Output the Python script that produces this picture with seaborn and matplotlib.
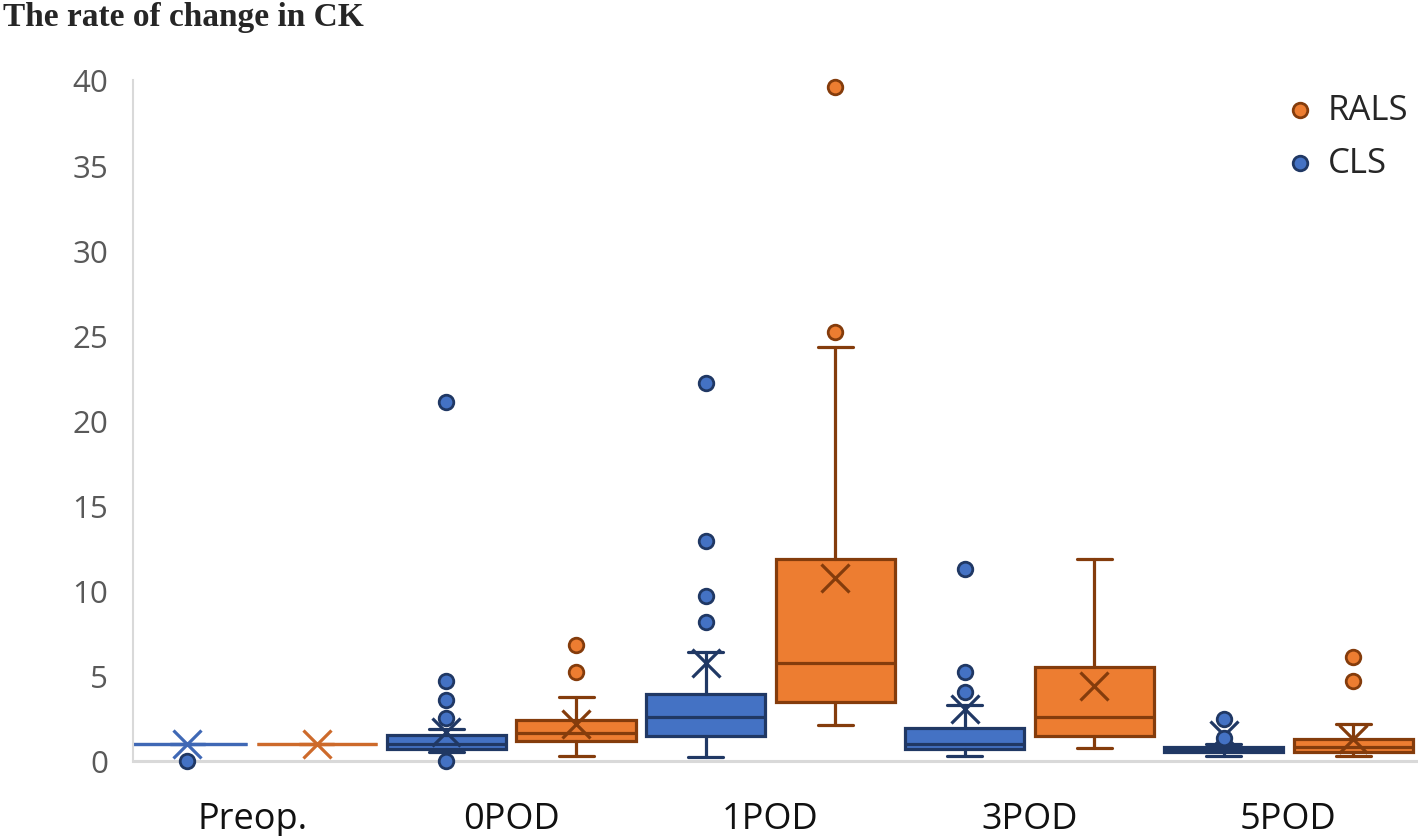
import matplotlib
matplotlib.use("Agg")
import matplotlib.pyplot as plt
import seaborn as sns
import pandas as pd

# categories and group summaries
categories = ["Preop.", "0POD", "1POD", "3POD", "5POD"]
groups = ["RALS", "CLS"]

cls_q1 = [1.0, 0.70, 1.47, 0.70, 0.53]
cls_med = [1.0, 1.00, 2.58, 1.00, 0.65]
cls_q3 = [1.0, 1.53, 3.93, 1.94, 0.80]
cls_wlo = [1.0, 0.53, 0.25, 0.30, 0.30]
cls_whi = [1.0, 1.90, 6.40, 3.30, 1.00]
cls_mean = [1.0, 1.70, 5.75, 3.05, 1.55]
cls_out = [[0.0], [0.0, 2.5, 3.6, 4.7, 21.1], [8.15, 9.7, 12.9, 22.2], [4.05, 5.2, 11.3], [1.33, 2.47]]

rals_q1 = [1.0, 1.17, 3.46, 1.47, 0.50]
rals_med = [1.0, 1.65, 5.75, 2.60, 0.80]
rals_q3 = [1.0, 2.40, 11.86, 5.50, 1.30]
rals_wlo = [1.0, 0.30, 2.10, 0.76, 0.30]
rals_whi = [1.0, 3.75, 24.30, 11.86, 2.20]
rals_mean = [1.0, 2.17, 10.75, 4.40, 1.30]
rals_out = [[], [5.2, 6.8], [25.2, 39.6], [], [4.7, 6.1]]

summ = {
    "CLS": (cls_q1, cls_med, cls_q3, cls_wlo, cls_whi, cls_mean, cls_out),
    "RALS": (rals_q1, rals_med, rals_q3, rals_wlo, rals_whi, rals_mean, rals_out),
}
offsets = {"CLS": -0.25, "RALS": 0.25}
fills = {"CLS": "#4472C4", "RALS": "#ED7D31"}
edges = {"CLS": "#203864", "RALS": "#843C0C"}
flat_edges = {"CLS": "#3F68B5", "RALS": "#CD6A2B"}

sns.set_style("white")
fig = plt.figure(figsize=(14.18, 8.37), dpi=100)
ax = fig.add_axes([133 / 1418, 75 / 837, 1 - 133 / 1418, (762 - 81) / 837])

lw = 2.3
for g in ["CLS", "RALS"]:
    q1, med, q3, wlo, whi, mean, out = summ[g]
    for i in range(len(categories)):
        flat = q1[i] == q3[i]
        ec = flat_edges[g] if flat else edges[g]
        stats = [dict(med=med[i], q1=q1[i], q3=q3[i], whislo=wlo[i], whishi=whi[i],
                      mean=mean[i], fliers=[])]
        ax.bxp(stats, positions=[i + offsets[g]], widths=0.46, capwidths=0.135,
               showmeans=True, showfliers=False, patch_artist=True, manage_ticks=False,
               boxprops=dict(facecolor=fills[g], edgecolor=ec, linewidth=lw),
               medianprops=dict(color=ec, linewidth=lw),
               whiskerprops=dict(color=ec, linewidth=lw),
               capprops=dict(color=ec, linewidth=lw),
               meanprops=dict(marker="x", markeredgecolor=ec, markersize=20,
                              markeredgewidth=lw))

# outliers in long form, drawn with seaborn
rows = []
for g in groups:
    out = summ[g][6]
    for i, vals in enumerate(out):
        for v in vals:
            rows.append({"pos": i + offsets[g], "value": v, "Group": g})
df = pd.DataFrame(rows)

for g in groups:
    sns.scatterplot(data=df[df["Group"] == g], x="pos", y="value", color=fills[g],
                    edgecolor=edges[g], linewidth=2, s=110, label=g, zorder=5,
                    clip_on=False, ax=ax)

ax.set_xlim(-0.46, 4.50)
ax.set_ylim(0, 40)
ax.set_xticks(range(len(categories)))
ax.set_xticklabels(categories)
ax.set_yticks(range(0, 41, 5))
ax.set_xlabel("")
ax.set_ylabel("")
ax.tick_params(axis="y", length=0, pad=18, labelsize=22.5, labelcolor="#595959")
ax.tick_params(axis="x", length=0, pad=29, labelsize=26, labelcolor="#111111")
for lab in ax.get_xticklabels() + ax.get_yticklabels():
    lab.set_family("Open Sans")

for s in ["top", "right"]:
    ax.spines[s].set_visible(False)
ax.spines["left"].set_color("#D9D9D9")
ax.spines["left"].set_linewidth(1.5)
ax.spines["bottom"].set_color("#D9D9D9")
ax.spines["bottom"].set_linewidth(2.2)

leg = ax.legend(loc="upper right", bbox_to_anchor=(1408 / 1418, 1 - 94 / 837),
                bbox_transform=fig.transFigure, frameon=False, fontsize=25,
                handlelength=0.6, handletextpad=0.5, labelspacing=0.55,
                borderaxespad=0, borderpad=0)
for t in leg.get_texts():
    t.set_family("Open Sans")

fig.text(0.002, 0.998, "The rate of change in CK", ha="left", va="top",
         fontsize=24, fontweight="bold", family="Liberation Serif")

fig.savefig("out.png", dpi=100)
